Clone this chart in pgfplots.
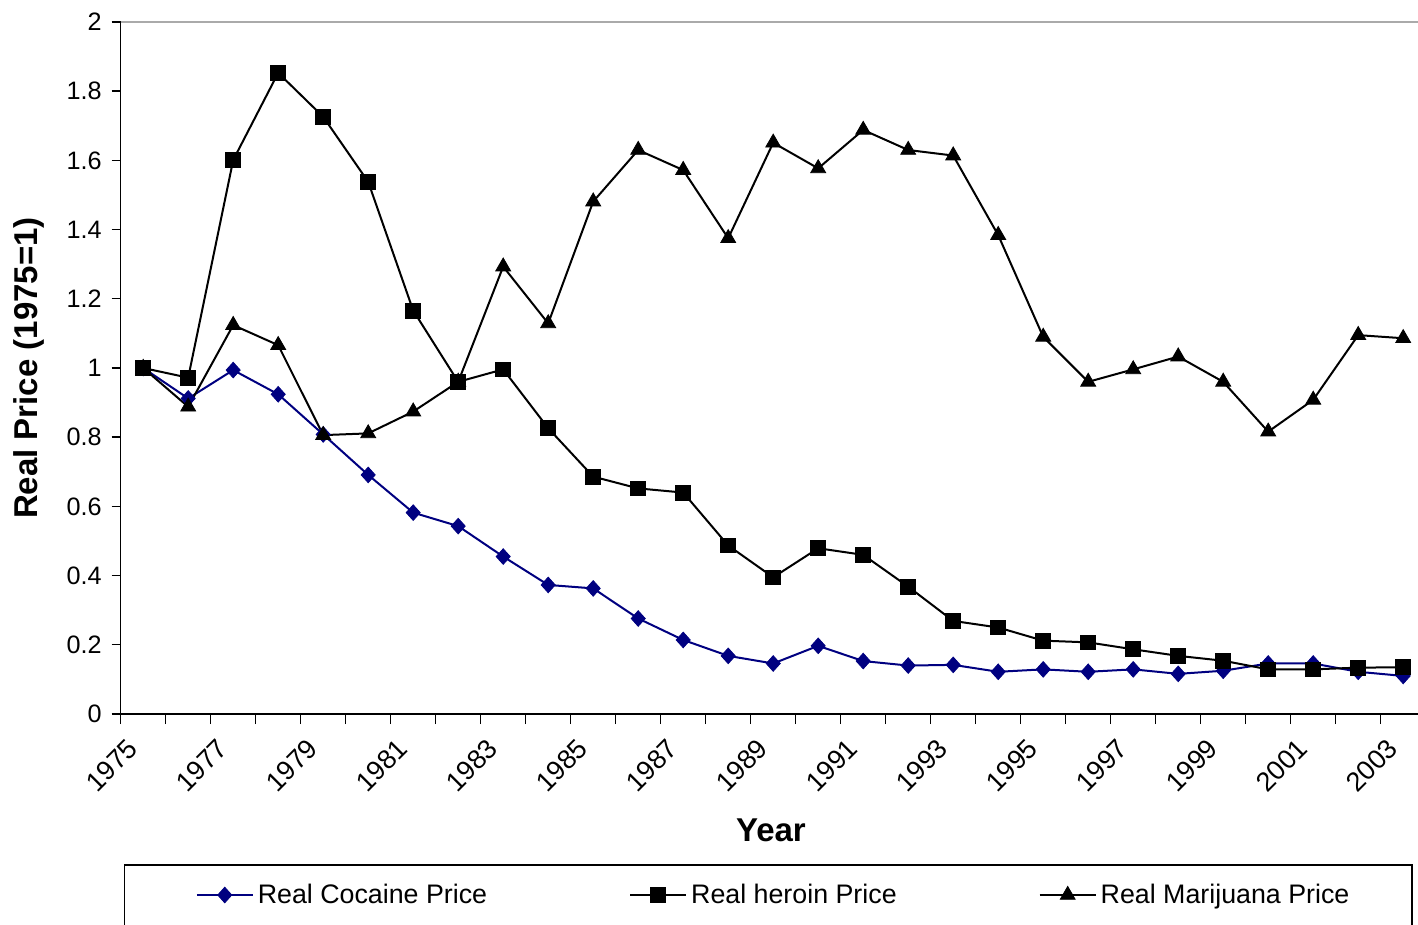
\documentclass[border=0pt]{standalone}
\usepackage{pgfplots}
\pgfplotsset{compat=1.18}
\usepackage{pgfplotstable}
\usepackage{fontspec}
\setmainfont{Liberation Sans}

\definecolor{cocaine}{RGB}{0,0,128}
\definecolor{frame}{RGB}{170,170,170}

% index 0 = 1975 ... 28 = 2003
\pgfplotstableread{
i  coc   her   mar
0  1.000 1.000 1.000
1  0.912 0.972 0.888
2  0.994 1.601 1.124
3  0.924 1.853 1.066
4  0.808 1.726 0.806
5  0.691 1.538 0.811
6  0.582 1.166 0.874
7  0.543 0.960 0.960
8  0.455 0.996 1.293
9  0.373 0.826 1.129
10 0.363 0.686 1.481
11 0.276 0.652 1.630
12 0.214 0.640 1.572
13 0.168 0.487 1.375
14 0.146 0.395 1.651
15 0.197 0.479 1.577
16 0.153 0.460 1.688
17 0.140 0.368 1.630
18 0.142 0.269 1.614
19 0.122 0.250 1.384
20 0.129 0.212 1.090
21 0.122 0.207 0.960
22 0.129 0.187 0.996
23 0.116 0.168 1.033
24 0.125 0.154 0.960
25 0.146 0.129 0.816
26 0.146 0.129 0.908
27 0.122 0.134 1.095
28 0.110 0.135 1.086
}\prices

\begin{document}
\begin{tikzpicture}
\begin{axis}[
  scale only axis, width=650.25pt, height=346pt,
  xmin=-0.5, xmax=28.4, ymin=0, ymax=2,
  axis x line*=bottom, axis y line*=left,
  axis line style={line width=0.8pt, -},
  tick align=outside,
  tick style={black, line width=0.7pt},
  xtick={0,2,...,28},
  xticklabels={1975,1977,1979,1981,1983,1985,1987,1989,1991,1993,1995,1997,1999,2001,2003},
  major x tick style={draw=none},
  minor xtick={-0.5,0.5,...,28.5},
  minor tick length=5pt,
  ytick={0,0.2,0.4,0.6,0.8,1,1.2,1.4,1.6,1.8,2},
  major tick length=4.5pt,
  /pgf/number format/assume math mode=true,
  xticklabel style={font=\fontsize{13.5}{16}\selectfont, rotate=45, anchor=north east, xshift=-7.5pt, yshift=4.5pt},
  yticklabel style={font=\fontsize{12.6}{15}\selectfont, xshift=-1.5pt},
  xlabel={\bfseries Year},
  ylabel={\bfseries Real Price (1975=1)},
  label style={font=\fontsize{16.5}{19}\selectfont},
  xlabel style={at={(axis description cs:0.5,0)}, anchor=center, yshift=-58pt},
  ylabel style={at={(axis description cs:0,0.5)}, anchor=center, yshift=45.9pt},
  legend columns=3,
  legend cell align=left,
  legend image code/.code={\draw[mark repeat=2,mark phase=2,#1] plot coordinates {(0pt,0pt) (14pt,0pt) (28pt,0pt)};},
  legend style={at={(rel axis cs:0.0574,-0.2616)}, anchor=west, draw=none, fill=none,
    inner sep=0pt, font=\fontsize{13.4}{16}\selectfont,
    /tikz/every even column/.append style={column sep=69pt}},
  clip=false,
]
\coordinate (O) at (rel axis cs:0,0);
\draw[frame, line width=1pt] (rel axis cs:0,1) -- (rel axis cs:1,1);
\draw[black, line width=0.8pt] (rel axis cs:0.003,-0.2182) rectangle (rel axis cs:0.9929,-0.45);

\addplot[cocaine, line width=1pt, mark=diamond*, mark size=3.9pt, mark options={solid, line width=0.4pt, xscale=1.2}]
  table[x=i, y=coc] {\prices};
\addlegendentry{Real Cocaine Price}
\addplot[black, line width=1pt, mark=square*, mark size=3.7pt, mark options={solid, line width=0.4pt}]
  table[x=i, y=her] {\prices};
\addlegendentry{Real heroin Price}
\addplot[black, line width=1pt, mark=triangle*, mark size=4.3pt, mark options={solid, line width=0.4pt}]
  table[x=i, y=mar] {\prices};
\addlegendentry{Real Marijuana Price}
\end{axis}
\pgfresetboundingbox
\path (O) ++(-60.35pt,-105.5pt) rectangle ++(709pt,462.5pt);
\end{tikzpicture}
\end{document}
